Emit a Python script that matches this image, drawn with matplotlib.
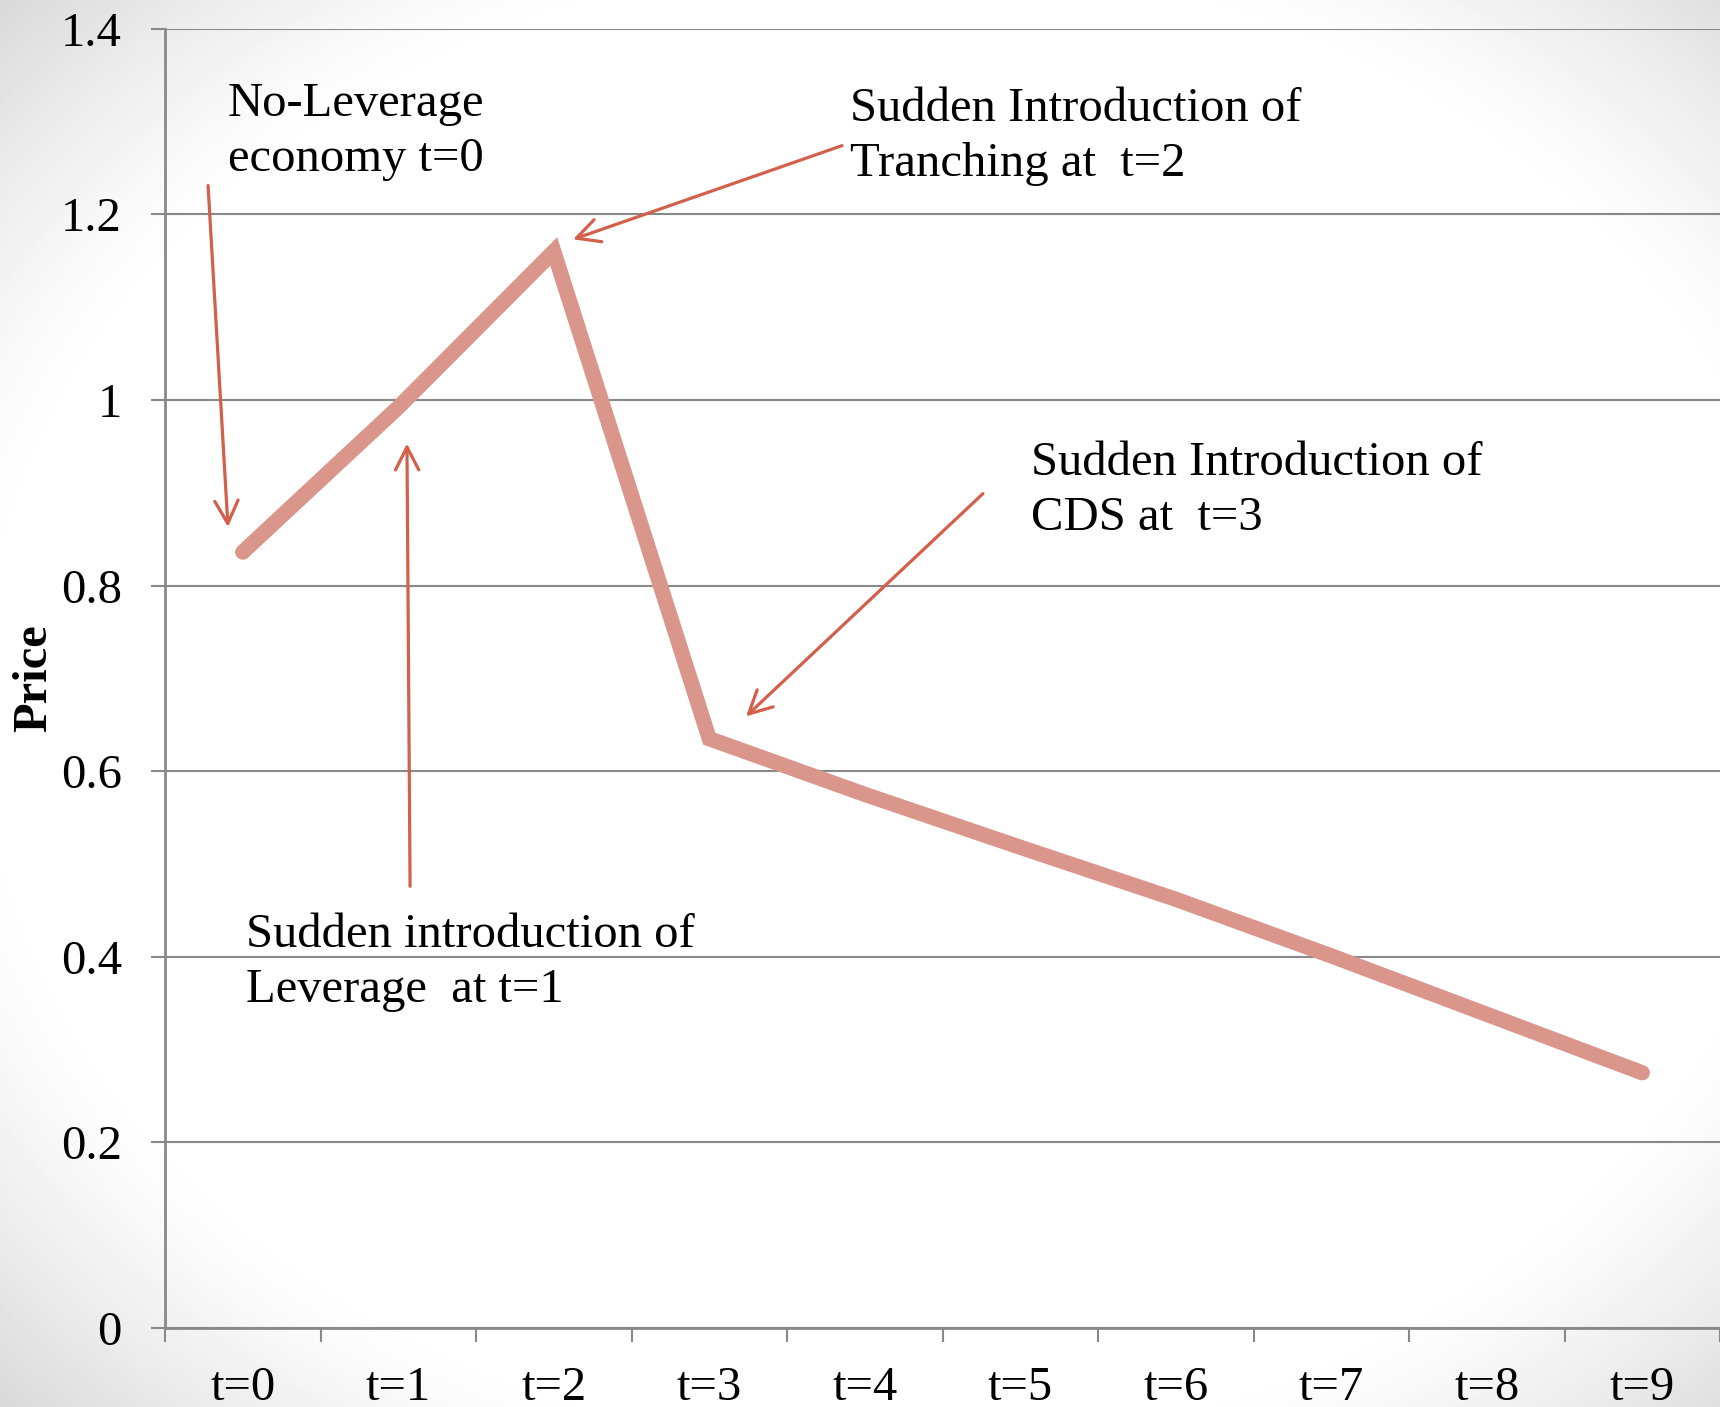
import numpy as np
import matplotlib
matplotlib.use("Agg")
import matplotlib.pyplot as plt

plt.rcParams['font.family'] = ['Liberation Serif', 'DejaVu Serif']

# price path over the periods
periods = ['t=0', 't=1', 't=2', 't=3', 't=4', 't=5', 't=6', 't=7', 't=8', 't=9']
price = [0.836, 0.992, 1.16, 0.635, 0.575, 0.518, 0.462, 0.401, 0.338, 0.275]
yticks = [0, 0.2, 0.4, 0.6, 0.8, 1.0, 1.2, 1.4]
ytick_labels = ['0', '0.2', '0.4', '0.6', '0.8', '1', '1.2', '1.4']

# annotation text: (label, text position, arrow tail, arrow head)
notes = [
    ('No-Leverage\neconomy t=0', (-0.095, 1.343), (-0.223, 1.231), (-0.095, 0.863)),
    ('Sudden Introduction of\nTranching at  t=2', (3.905, 1.337), (3.854, 1.274), (2.124, 1.173)),
    ('Sudden Introduction of\nCDS at  t=3', (5.069, 0.956), (4.76, 0.899), (3.236, 0.659)),
    ('Sudden introduction of\nLeverage  at t=1', (0.021, 0.447), (1.076, 0.476), (1.056, 0.953)),
]

line_color = '#da968b'
arrow_color = '#d2604a'
grid_color = '#898989'
fs = 35

fig = plt.figure(figsize=(17.2, 14.07), dpi=100)

# soft grey vignette behind the chart
bg = fig.add_axes([0, 0, 1, 1], zorder=-1)
h, w = 1407, 1720
yy, xx = np.mgrid[0:h, 0:w]
u = xx / w - 0.52
v = yy / h - 0.5
r = np.sqrt(u ** 2 + v ** 2)
t = np.clip((r - 0.52) / 0.2, 0, 1)
shade = 1 - 0.15 * t ** 1.3
bg.imshow(shade, cmap='gray', vmin=0, vmax=1, aspect='auto', interpolation='bilinear')
bg.axis('off')

ax = fig.add_axes([165 / 1720, 1 - 1328 / 1407, 1 - 165 / 1720, (1328 - 28.7) / 1407])
ax.set_facecolor('none')

x = np.arange(len(periods))
ax.plot(x, price, color=line_color, lw=11, solid_capstyle='round', solid_joinstyle='miter', zorder=3)

ax.set_xlim(-0.5, len(periods) - 0.5)
ax.set_ylim(0, 1.4)

ax.set_yticks(yticks)
ax.set_yticklabels(ytick_labels)
ax.set_xticks(np.arange(-0.5, len(periods)))
ax.set_xticklabels([])
ax.set_xticks(x, minor=True)
ax.set_xticklabels(periods, minor=True)

ax.tick_params(axis='y', direction='out', length=10, width=1.5, color=grid_color,
               labelsize=fs, pad=21)
ax.tick_params(axis='x', which='major', direction='out', length=10, width=1.5, color=grid_color)
ax.tick_params(axis='x', which='minor', length=0, labelsize=fs, pad=27)

ax.grid(axis='y', color=grid_color, lw=1.5, zorder=0)
ax.set_axisbelow(True)
for side in ['top', 'right']:
    ax.spines[side].set_visible(False)
for side in ['left', 'bottom']:
    ax.spines[side].set_color(grid_color)
    ax.spines[side].set_linewidth(2)

ax.set_ylabel('Price', fontsize=fs, fontweight='bold')
ax.yaxis.set_label_coords(-0.070, 0.5)

for label, txt_pos, tail, head in notes:
    ax.text(txt_pos[0], txt_pos[1], label, fontsize=fs, ha='left', va='top',
            linespacing=1.33, zorder=4)
    ax.annotate('', xy=head, xytext=tail,
                arrowprops=dict(arrowstyle='->,head_length=0.47,head_width=0.24',
                                color=arrow_color, lw=2.3, shrinkA=0, shrinkB=0,
                                mutation_scale=fs),
                zorder=4)

fig.savefig('out.png', dpi=100)
